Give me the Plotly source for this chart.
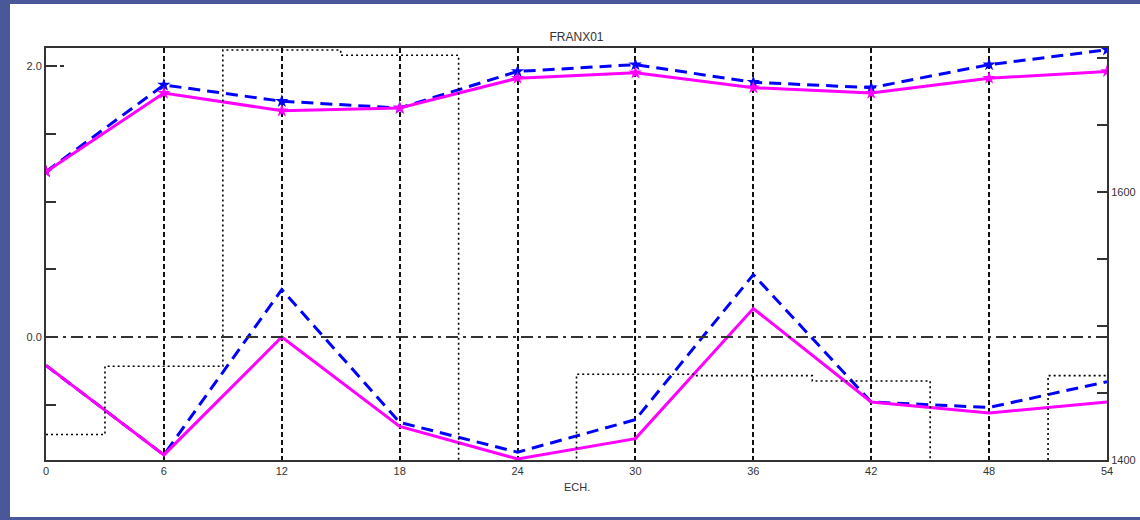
import plotly.graph_objects as go

# ---- data ----
ech = [0, 6, 12, 18, 24, 30, 36, 42, 48, 54]
rms_blue = [1.22, 1.86, 1.74, 1.69, 1.96, 2.01, 1.88, 1.84, 2.01, 2.12]
rms_magenta = [1.22, 1.80, 1.67, 1.69, 1.91, 1.95, 1.84, 1.80, 1.91, 1.96]
bias_blue = [-0.21, -0.87, 0.35, -0.63, -0.85, -0.61, 0.46, -0.48, -0.52, -0.33]
bias_magenta = [-0.21, -0.87, 0.00, -0.66, -0.90, -0.75, 0.21, -0.48, -0.56, -0.48]
count = [1419, 1470, 1706, 1702, 1395, 1464, 1463, 1459, 1395, 1463]

left_tickvals = [-0.5, 0.0, 0.5, 1.0, 1.5, 2.0]
left_ticktext = ["", "0.0", "", "", "", "2.0"]
right_tickvals = [1400, 1450, 1500, 1550, 1600, 1650, 1700]
right_ticktext = ["1400", "", "", "", "1600", "", ""]
x_tickvals = ech
title_text = "FRANX01"
xlabel = "ECH."

W, H = 1140, 520
L, R, T, B = 46, 33, 48, 60
pw, ph = W - L - R, H - T - B

BLUE = "#0000FF"
MAG = "#FF00FF"
AX = "#333333"
FONT = dict(family="Liberation Sans, Arial, sans-serif", size=11, color=AX)

fig = go.Figure()

fig.add_trace(go.Scatter(x=ech, y=count, yaxis="y2", mode="lines",
                         line=dict(color="black", width=1.6, dash="2px,3px", shape="hvh"),
                         showlegend=False))
fig.add_trace(go.Scatter(x=ech, y=rms_blue, mode="lines+markers",
                         line=dict(color=BLUE, width=3, dash="12px,7px"),
                         marker=dict(symbol="star", size=10, color=BLUE),
                         showlegend=False))
fig.add_trace(go.Scatter(x=ech, y=rms_magenta, mode="lines+markers",
                         line=dict(color=MAG, width=3),
                         marker=dict(symbol="star", size=10, color=MAG),
                         showlegend=False))
fig.add_trace(go.Scatter(x=ech, y=bias_blue, mode="lines",
                         line=dict(color=BLUE, width=3, dash="12px,7px"),
                         showlegend=False))
fig.add_trace(go.Scatter(x=ech, y=bias_magenta, mode="lines",
                         line=dict(color=MAG, width=3),
                         showlegend=False))

ymin = (337 - 460) / 135.5
ymax = (337 - 48) / 135.5

shapes = [
    # white panel over blue page
    dict(type="rect", xref="paper", yref="paper", layer="below",
         x0=(10 - L) / pw, x1=(W + 5 - L) / pw,
         y0=(T + ph - 517) / ph, y1=(T + ph - 4) / ph,
         fillcolor="white", line=dict(width=0)),
    # zero line
    dict(type="line", xref="paper", yref="y", x0=0, x1=1, y0=0, y1=0,
         line=dict(color=AX, width=2, dash="12px,5px,3px,5px")),
    # dashed tick at 2.0
    dict(type="line", xref="paper", yref="y", x0=0, x1=20 / pw, y0=2.0, y1=2.0,
         line=dict(color=AX, width=2, dash="4px,3px")),
]

fig.update_layout(
    width=W, height=H,
    margin=dict(l=L, r=R, t=T, b=B, autoexpand=False),
    paper_bgcolor="#4A5899",
    plot_bgcolor="white",
    font=FONT,
    title=dict(text=title_text, x=(L + pw / 2) / W, xanchor="center",
               y=1 - 37 / H, yanchor="middle", yref="container",
               font=dict(size=12, color=AX)),
    xaxis=dict(range=[0, 54], tickvals=x_tickvals, ticks="", showgrid=True,
               gridcolor="#111111", gridwidth=2, griddash="5px,3px",
               showline=True, linecolor=AX, linewidth=2, mirror=True,
               zeroline=False, tickfont=FONT, automargin=False),
    yaxis=dict(range=[ymin, ymax], tickvals=left_tickvals, ticktext=left_ticktext,
               ticks="inside", ticklen=10, tickwidth=2, tickcolor=AX,
               showgrid=False, zeroline=False, showline=True, linecolor=AX,
               linewidth=2, tickfont=FONT, automargin=False),
    yaxis2=dict(range=[1400, 1400 + 412 / 1.34], overlaying="y", side="right",
                tickvals=right_tickvals, ticktext=right_ticktext,
                ticks="inside", ticklen=10, tickwidth=2, tickcolor=AX,
                showgrid=False, zeroline=False, showline=True, linecolor=AX,
                linewidth=2, tickfont=FONT, automargin=False),
    shapes=shapes,
    annotations=[dict(text=xlabel, xref="paper", yref="paper", x=0.5,
                      y=(460 - 487) / ph, xanchor="center", yanchor="middle",
                      showarrow=False, font=dict(size=11, color=AX))],
)

fig.write_html(
    "out.html",
    config={"displayModeBar": False, "staticPlot": True},
    post_script="document.body.style.margin='0';document.body.style.overflow='hidden';",
)
